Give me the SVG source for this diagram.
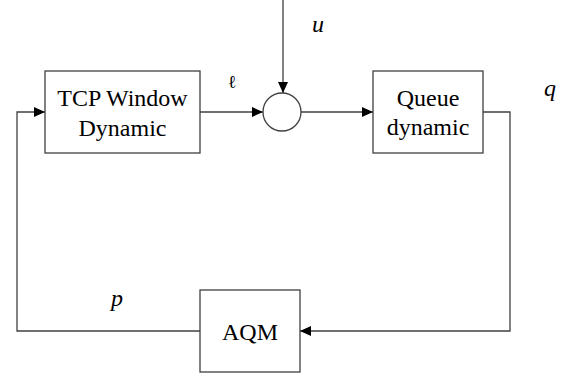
<svg xmlns="http://www.w3.org/2000/svg" width="571" height="377" viewBox="0 0 571 377">
<defs>
<marker id="ah" markerWidth="11" markerHeight="10" refX="11" refY="5" orient="auto" markerUnits="userSpaceOnUse">
<path d="M0,0 L11,5 L0,10 Z" fill="#000"/>
</marker>
</defs>
<rect width="571" height="377" fill="#fff"/>
<g id="connectors" fill="none" stroke="#404040" stroke-width="1.3">
<path d="M283,0 V93" marker-end="url(#ah)"/>
<path d="M200,112 H263" marker-end="url(#ah)"/>
<path d="M301,112 H373" marker-end="url(#ah)"/>
<path d="M483,112 H510 V331 H300" marker-end="url(#ah)"/>
<path d="M200,331 H17 V112 H45" marker-end="url(#ah)"/>
</g>
<g id="tcp">
<rect x="45" y="71" width="155" height="82" fill="#fff" stroke="#404040" stroke-width="1.3"/>
<text x="122.5" y="106" font-family="Liberation Serif" font-size="24" text-anchor="middle">TCP Window</text>
<text x="122.5" y="136" font-family="Liberation Serif" font-size="24" text-anchor="middle">Dynamic</text>
</g>
<g id="sum">
<circle cx="282" cy="112" r="19" fill="#fff" stroke="#404040" stroke-width="1.3"/>
</g>
<g id="queue">
<rect x="373" y="71" width="110" height="82" fill="#fff" stroke="#404040" stroke-width="1.3"/>
<text x="428" y="106" font-family="Liberation Serif" font-size="24" text-anchor="middle">Queue</text>
<text x="428" y="135" font-family="Liberation Serif" font-size="24" text-anchor="middle">dynamic</text>
</g>
<g id="aqm">
<rect x="200" y="290" width="100" height="82" fill="#fff" stroke="#404040" stroke-width="1.3"/>
<text x="250" y="340" font-family="Liberation Serif" font-size="24" text-anchor="middle">AQM</text>
</g>
<g id="labels">
<text x="318" y="32" font-family="Liberation Serif" font-size="24" font-style="italic" text-anchor="middle">u</text>
<text x="232" y="88" font-family="Liberation Serif" font-size="18" text-anchor="middle">ℓ</text>
<text x="550" y="96" font-family="Liberation Serif" font-size="24" font-style="italic" text-anchor="middle">q</text>
<text x="117" y="306" font-family="Liberation Serif" font-size="24" font-style="italic" text-anchor="middle">p</text>
</g>
</svg>
